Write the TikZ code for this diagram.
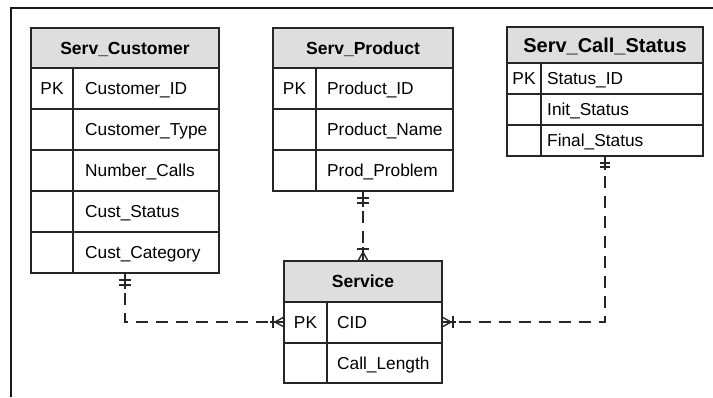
\documentclass[tikz,border=0pt]{standalone}
\usepackage{fontspec}
\setmainfont{Liberation Sans}
\usetikzlibrary{calc}
\begin{document}
\begin{tikzpicture}[x=1pt,y=-1pt,
  tbl/.style={draw=black!85, line width=1.3pt, inner sep=0pt, outer sep=0pt, anchor=north west},
  hdr/.style={fill=black!13},
  sep/.style={draw=black!85, line width=1.1pt},
  fld/.style={anchor=base west, inner sep=0pt, font=\fontsize{17.3}{20}\selectfont},
  pk/.style={anchor=base, inner sep=0pt, font=\fontsize{17.3}{20}\selectfont},
  ttl/.style={anchor=base, inner sep=0pt, font=\bfseries\fontsize{17.5}{20}\selectfont},
  bigttl/.style={anchor=base, inner sep=0pt, font=\bfseries\fontsize{20}{24}\selectfont},
  rel/.style={draw=black!85, line width=1.4pt, dash pattern=on 12pt off 8pt},
  mk/.style={draw=black!85, line width=1.4pt}
]
\useasboundingbox (0,0) rectangle (713,397);
% frame (only top and left edges visible)
\draw[line width=1.8pt, black!90] (11,397) -- (11,8) -- (713,8);

% ---------- Serv_Customer ----------
\fill[hdr] (31,28) rectangle (219,68);
\node[tbl, minimum width=188pt, minimum height=245pt] (cust) at (31,28) {};
\draw[sep] (31,68) -- (219,68);
\foreach \yy in {109,150,191,232} \draw[sep] (31,\yy) -- (219,\yy);
\draw[sep] (73,68) -- (73,273);
\node[ttl] (custt) at (125,54.3) {Serv\_Customer};
\node[pk] (custpk) at (52,94.7) {PK};
\node[fld] (cust1) at (85,94.7) {Customer\_ID};
\node[fld] (cust2) at (85,135.7) {Customer\_Type};
\node[fld] (cust3) at (85,176.7) {Number\_Calls};
\node[fld] (cust4) at (85,217.7) {Cust\_Status};
\node[fld] (cust5) at (85,258.7) {Cust\_Category};

% ---------- Serv_Product ----------
\fill[hdr] (273,28) rectangle (453,68);
\node[tbl, minimum width=180pt, minimum height=163pt] (prod) at (273,28) {};
\draw[sep] (273,68) -- (453,68);
\foreach \yy in {109,150} \draw[sep] (273,\yy) -- (453,\yy);
\draw[sep] (316,68) -- (316,191);
\node[ttl] (prodt) at (363,54.3) {Serv\_Product};
\node[pk] (prodpk) at (294.5,94.7) {PK};
\node[fld] (prod1) at (327,94.7) {Product\_ID};
\node[fld] (prod2) at (327,135.7) {Product\_Name};
\node[fld] (prod3) at (327,176.7) {Prod\_Problem};

% ---------- Serv_Call_Status ----------
\fill[hdr] (507,27) rectangle (703,63);
\node[tbl, minimum width=196pt, minimum height=129pt] (stat) at (507,27) {};
\draw[sep] (507,63) -- (703,63);
\foreach \yy in {94,125} \draw[sep] (507,\yy) -- (703,\yy);
\draw[sep] (541,63) -- (541,156);
\node[bigttl] (statt) at (605,52.2) {Serv\_Call\_Status};
\node[pk] (statpk) at (524,84.7) {PK};
\node[fld] (stat1) at (547,84.7) {Status\_ID};
\node[fld] (stat2) at (547,115.7) {Init\_Status};
\node[fld] (stat3) at (547,146.7) {Final\_Status};

% ---------- Service ----------
\fill[hdr] (284,261) rectangle (442,302);
\node[tbl, minimum width=158pt, minimum height=122pt] (svc) at (284,261) {};
\draw[sep] (284,302) -- (442,302);
\draw[sep] (284,343) -- (442,343);
\draw[sep] (327,302) -- (327,383);
\node[ttl] (svct) at (363,287.8) {Service};
\node[pk] (svcpk) at (305.5,328.7) {PK};
\node[fld] (svc1) at (337,328.7) {CID};
\node[fld] (svc2) at (337,369.2) {Call\_Length};

% ---------- relationships ----------
% Serv_Customer -> Service
\draw[rel] (cust.south) -- (cust.south |- svc.west) -- (svc.west);
\draw[mk] (cust.south) -- +(0,16);
\draw[mk] ($(cust.south)+(-6,7)$) -- +(12,0);
\draw[mk] ($(cust.south)+(-6,12)$) -- +(12,0);
\draw[mk] ($(svc.west)+(-14,0)$) -- (svc.west);
\draw[mk] ($(svc.west)+(-11,-6)$) -- +(0,12);
\draw[mk] ($(svc.west)+(0,-5)$) -- ($(svc.west)+(-9,0)$) -- ($(svc.west)+(0,5)$);

% Serv_Product -> Service
\draw[rel] (prod.south) -- (svc.north);
\draw[mk] (prod.south) -- +(0,16);
\draw[mk] ($(prod.south)+(-6,7)$) -- +(12,0);
\draw[mk] ($(prod.south)+(-6,12)$) -- +(12,0);
\draw[mk] ($(svc.north)+(0,-14)$) -- (svc.north);
\draw[mk] ($(svc.north)+(-6,-12)$) -- +(12,0);
\draw[mk] ($(svc.north)+(-5,0)$) -- ($(svc.north)+(0,-9)$) -- ($(svc.north)+(5,0)$);

% Serv_Call_Status -> Service
\draw[rel] (stat.south) -- (stat.south |- svc.east) -- (svc.east);
\draw[mk] (stat.south) -- +(0,14);
\draw[mk] ($(stat.south)+(-5,7)$) -- +(10,0);
\draw[mk] ($(stat.south)+(-5,11)$) -- +(10,0);
\draw[mk] ($(svc.east)+(14,0)$) -- (svc.east);
\draw[mk] ($(svc.east)+(11,-6)$) -- +(0,12);
\draw[mk] ($(svc.east)+(0,-5)$) -- ($(svc.east)+(9,0)$) -- ($(svc.east)+(0,5)$);
\end{tikzpicture}
\end{document}
